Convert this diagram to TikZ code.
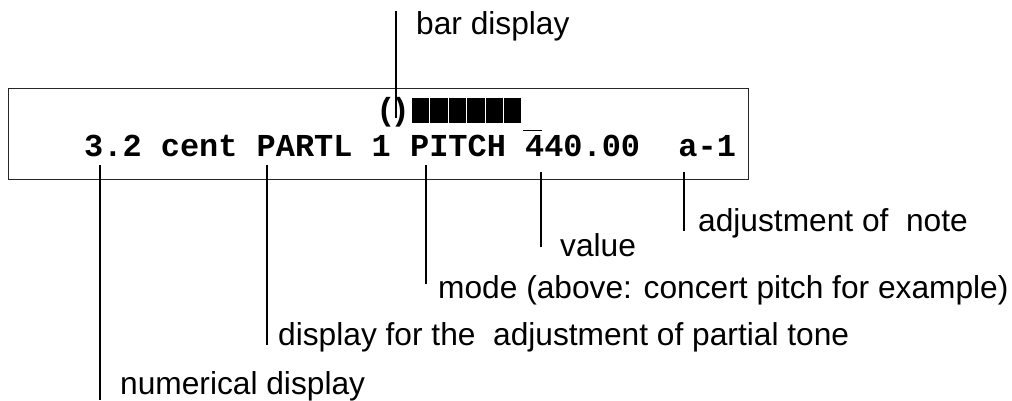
\documentclass[tikz,border=0pt]{standalone}
\usepackage{fontspec}
\setmainfont{Liberation Sans}
\newfontfamily\lcdfont{Liberation Mono}
\begin{document}
\begin{tikzpicture}[x=1pt,y=-1pt,
  lbl/.style={anchor=base west, inner sep=0pt, font=\fontsize{31.7}{38}\selectfont},
  lcdtext/.style={inner sep=0pt, font=\lcdfont\bfseries\fontsize{31.95}{38}\selectfont},
  leader/.style={line width=1.8pt},
  frame/.style={draw=black!85, line width=1.1pt, inner sep=0pt}]
\useasboundingbox (0,0) rectangle (1012,400);
% display frame
\node[frame, anchor=north west, minimum width=740pt, minimum height=91pt] (lcd) at (8,88) {};
% LCD contents
\node[lcdtext, anchor=base] (paren) at (393,120) {(\kern-5pt)};
\foreach \i in {0,...,5} \fill (412+\i*18.4,98) rectangle ++(17.3,25);
\node[lcdtext, anchor=base west] (line2) at (84,156) {3.2 cent PARTL 1 PITCH 440.00\ \ a-1};
\draw[line width=1.4pt] (523,130.7) -- (542,130.7);
% labels
\node[lbl] (lbar) at (416,34.3) {bar display};
\node[lbl] (ladj) at (698,231.5) {adjustment of\ \ note};
\node[lbl] (lval) at (560,256) {value};
\node[lbl] (lmode) at (438,298) {mode (above: concert pitch for example)};
\node[lbl] (lpart) at (278,345) {display for the\ \ adjustment of partial tone};
\node[lbl] (lnum) at (120,394) {numerical display};
% leader end points
\coordinate (b1) at (396,10.7);  \coordinate (b2) at (396,118);
\coordinate (n1) at (100,165);   \coordinate (n2) at (100,400);
\coordinate (p1) at (267,165);   \coordinate (p2) at (267,345);
\coordinate (m1) at (426,165);   \coordinate (m2) at (426,284);
\coordinate (v1) at (541,172);   \coordinate (v2) at (541,247);
\coordinate (a1) at (684,172);   \coordinate (a2) at (684,231);
\draw[leader] (b1) -- (b2);
\draw[leader] (n1) -- (n2);
\draw[leader] (p1) -- (p2);
\draw[leader] (m1) -- (m2);
\draw[leader] (v1) -- (v2);
\draw[leader] (a1) -- (a2);
\end{tikzpicture}
\end{document}
